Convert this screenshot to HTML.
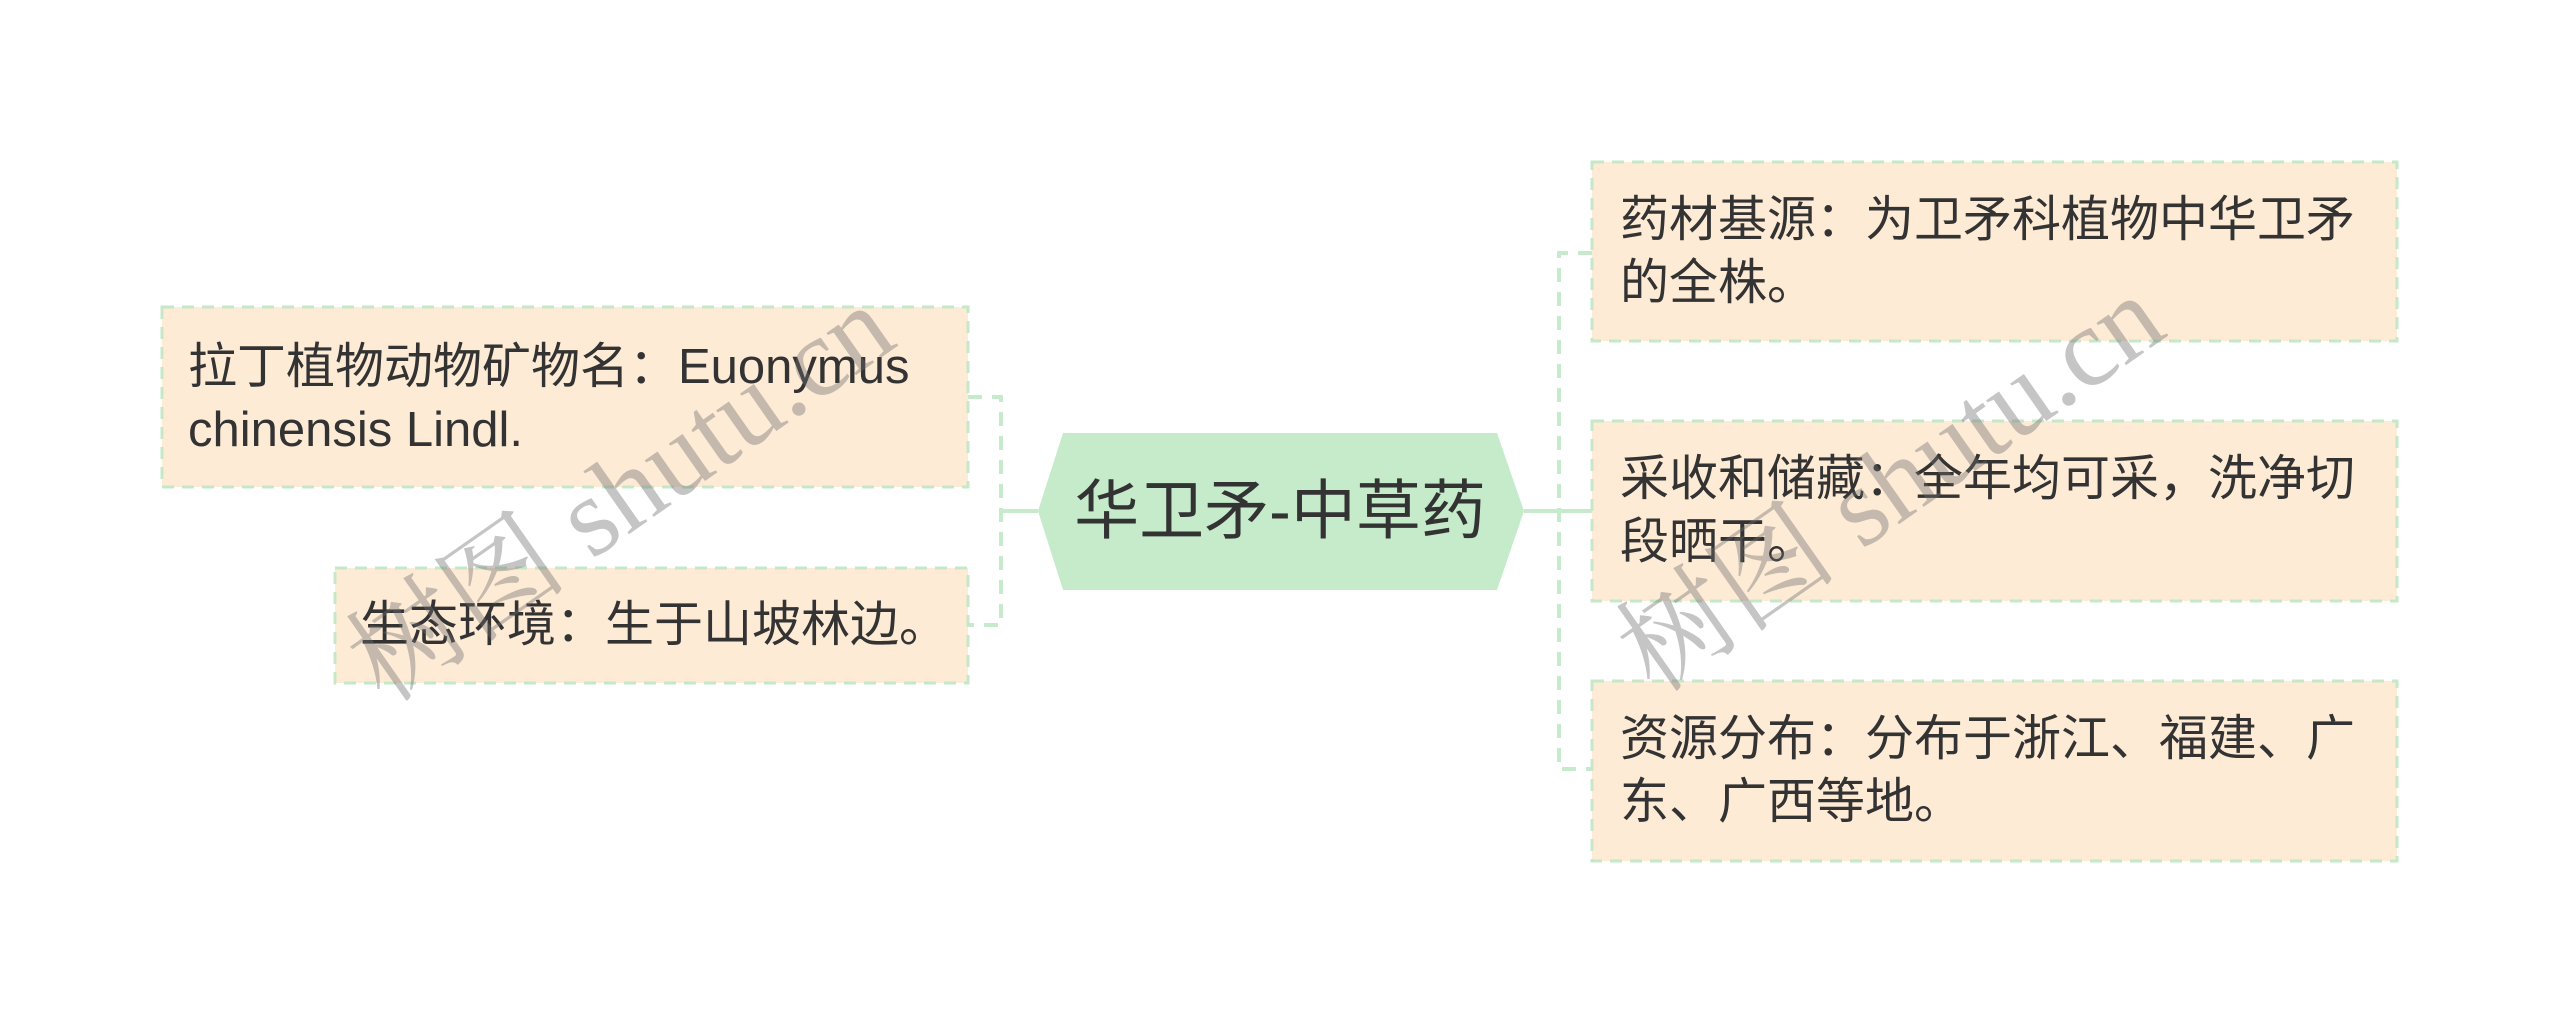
<!DOCTYPE html>
<html><head><meta charset="utf-8"><style>
html,body{margin:0;padding:0;background:#fff;}
body{width:2560px;height:1023px;overflow:hidden;position:relative;}
svg{position:absolute;left:0;top:0;}
</style></head><body>
<svg width="2560" height="1023" viewBox="0 0 2560 1023" xmlns="http://www.w3.org/2000/svg" font-family="'Liberation Sans','Noto Sans CJK SC',sans-serif">
<g stroke="#c6eacb" stroke-width="4" fill="none">
<line x1="1001" y1="511" x2="1038" y2="511"/>
<line x1="1524" y1="511" x2="1592" y2="511"/>
<g stroke-dasharray="14,10">
<path d="M968 397 H1001 V625 H968"/>
<path d="M1592 253 H1559 V769 H1592"/>
</g>
</g>
<polygon points="1063,433 1497,433 1524,511 1497,590 1063,590 1038,511" fill="#c5ebcb"/>
<text x="1280" y="533" font-size="65" fill="#333" text-anchor="middle">华卫矛-中草药</text>
<g fill="#fdebd5" stroke="#c6e8c8" stroke-width="3" stroke-dasharray="12,8">
<rect x="162" y="307" width="806" height="180"/>
<rect x="335" y="568" width="633" height="115"/>
<rect x="1592" y="162" width="805" height="179"/>
<rect x="1592" y="421" width="805" height="180"/>
<rect x="1592" y="681" width="805" height="180"/>
</g>
<g font-size="49" fill="#333">
<text x="188" y="383">拉丁植物动物矿物名：Euonymus</text>
<text x="188" y="446">chinensis Lindl.</text>
<text x="360" y="641">生态环境：生于山坡林边。</text>
<text x="1620" y="236">药材基源：为卫矛科植物中华卫矛</text>
<text x="1620" y="299">的全株。</text>
<text x="1620" y="495">采收和储藏：全年均可采，洗净切</text>
<text x="1620" y="558">段晒干。</text>
<text x="1620" y="755">资源分布：分布于浙江、福建、广</text>
<text x="1620" y="818">东、广西等地。</text>
</g>
<g font-family="'Liberation Serif','Noto Serif CJK SC',serif" font-size="112" fill="rgba(110,110,110,0.4)">
<text transform="translate(385,705) rotate(-35)">树图 shutu.cn</text>
<text transform="translate(1655,695) rotate(-35)">树图 shutu.cn</text>
</g>
</svg>
</body></html>
